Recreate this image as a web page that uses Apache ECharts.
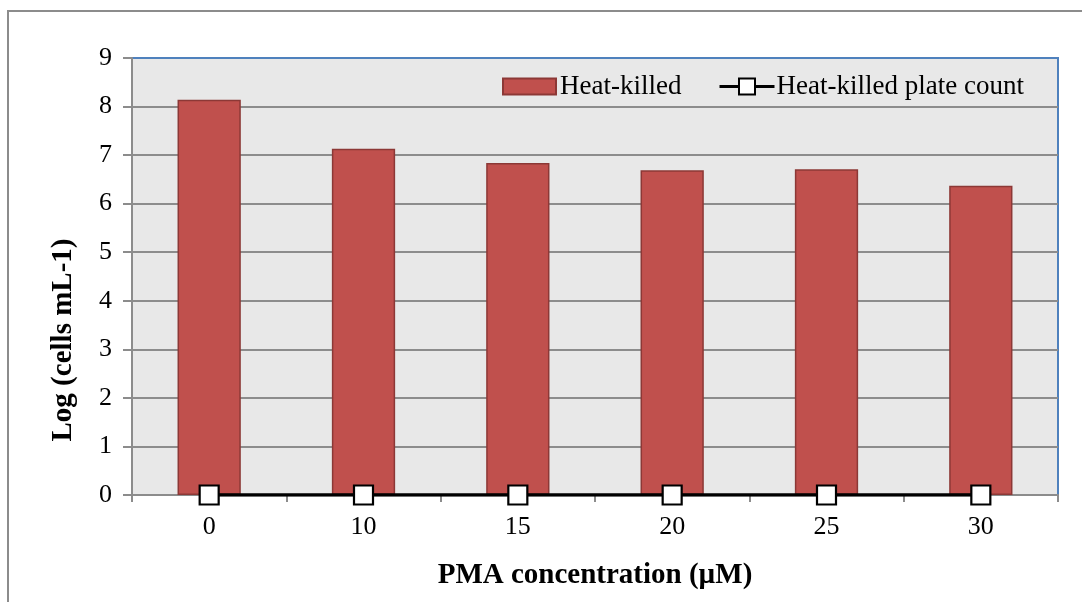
<!DOCTYPE html>
<html>
<head>
<meta charset="utf-8">
<script src="https://cdn.jsdelivr.net/npm/echarts@6/dist/echarts.min.js"></script>
<style>html,body{margin:0;padding:0;background:#fff}#c{width:1082px;height:602px}</style>
</head>
<body>
<div id="c"></div>
<script>
const categories = ['0', '10', '15', '20', '25', '30'];
const heatKilled = [8.14, 7.13, 6.84, 6.69, 6.71, 6.37];
const plateCount = [0, 0, 0, 0, 0, 0];
const yTicks = { min: 0, max: 9, interval: 1 };

const FONT = '"Liberation Serif", "Times New Roman", serif';
const chart = echarts.init(document.getElementById('c'));
chart.setOption({
  animation: false,
  backgroundColor: '#ffffff',
  textStyle: { fontFamily: FONT, color: '#000' },
  graphic: [
    { type: 'rect', shape: { x: 8, y: 11, width: 1100, height: 620 }, style: { fill: null, stroke: '#8c8c8c', lineWidth: 2 }, silent: true, z: -10 },
    { type: 'text', x: 64, y: 340, rotation: Math.PI / 2,
      style: { text: 'Log (cells mL-1)', font: 'bold 29px ' + FONT, fill: '#000', align: 'center', verticalAlign: 'middle' } }
  ],
  legend: [
    {
      left: 497, top: 68,
      itemWidth: 53, itemHeight: 16, itemGap: 40,
      textStyle: { fontFamily: FONT, fontSize: 27, color: '#000', padding: [0, 0, 0, -1] },
      data: [{ name: 'Heat-killed', icon: 'rect' }]
    },
    {
      left: 713, top: 68,
      itemWidth: 55, itemHeight: 20,
      lineStyle: { width: 3 },
      textStyle: { fontFamily: FONT, fontSize: 27, color: '#000', padding: [0, 0, 0, -3] },
      data: [{ name: 'Heat-killed plate count' }]
    }
  ],
  grid: {
    left: 132, right: 24, top: 58, bottom: 107,
    show: true, backgroundColor: '#e8e8e8', borderColor: '#4f81bd', borderWidth: 2
  },
  xAxis: {
    type: 'category', data: categories, boundaryGap: true,
    name: 'PMA concentration (µM)', nameLocation: 'middle', nameGap: 66,
    nameTextStyle: { fontFamily: FONT, fontSize: 29, fontWeight: 'bold', color: '#000' },
    axisLine: { show: true, lineStyle: { color: '#8c8c8c', width: 2 } },
    axisTick: { show: true, length: 7, lineStyle: { color: '#8c8c8c', width: 2 } },
    axisLabel: { fontFamily: FONT, fontSize: 26, color: '#000', margin: 19 },
    splitLine: { show: false }
  },
  yAxis: {
    type: 'value', min: yTicks.min, max: yTicks.max, interval: yTicks.interval,
    axisLine: { show: true, lineStyle: { color: '#8c8c8c', width: 2 } },
    axisTick: { show: true, length: 9, lineStyle: { color: '#8c8c8c', width: 2 } },
    axisLabel: { fontFamily: FONT, fontSize: 26, color: '#000', margin: 20 },
    splitLine: { show: true, showMaxLine: false, lineStyle: { color: '#8c8c8c', width: 2 } }
  },
  series: [
    {
      name: 'Heat-killed', type: 'bar', data: heatKilled,
      barCategoryGap: '59%',
      itemStyle: { color: '#c0504d', borderColor: '#8c3836', borderWidth: 1.5 }
    },
    {
      name: 'Heat-killed plate count', type: 'line', data: plateCount,
      symbol: 'rect', symbolSize: 19, z: 5,
      lineStyle: { color: '#000', width: 3.5 },
      itemStyle: { color: '#fff', borderColor: '#000', borderWidth: 2.2 }
    }
  ]
});
</script>
</body>
</html>
